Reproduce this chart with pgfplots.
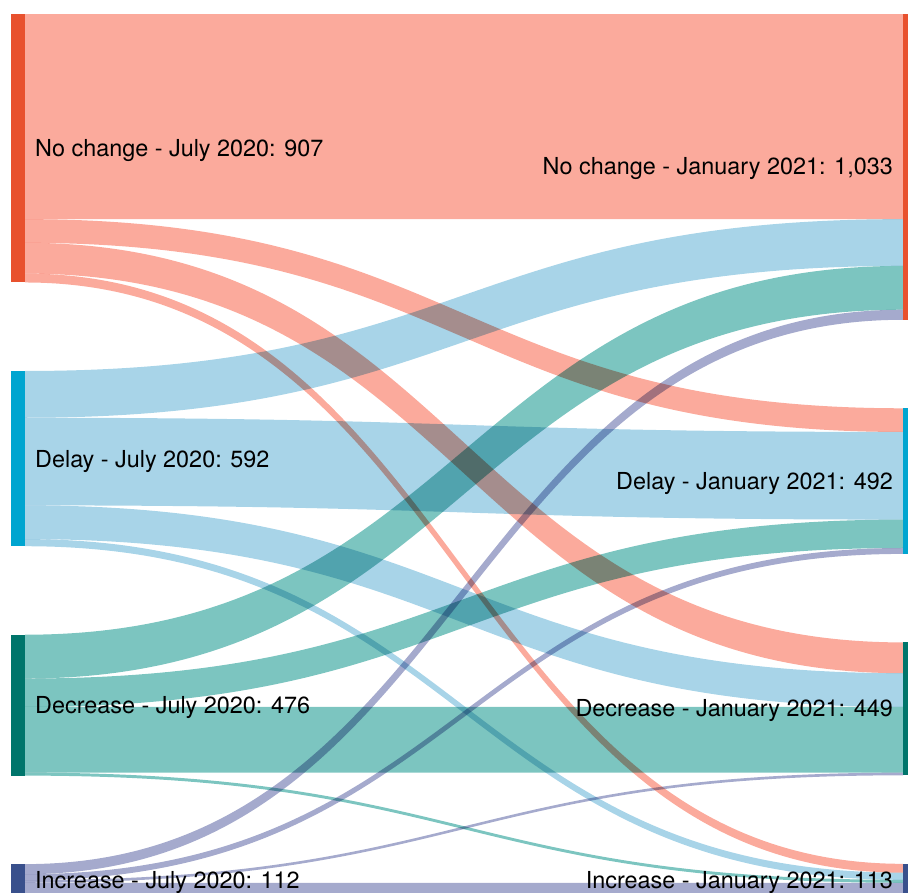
\documentclass[border=0pt]{standalone}
\usepackage{pgfplots}
\pgfplotsset{compat=1.18}
\usepackage{pgfplotstable}
\usepackage{fontspec}
\setmainfont{TeX Gyre Heros}

\definecolor{node0}{RGB}{232,81,46}
\definecolor{node1}{RGB}{0,165,208}
\definecolor{node2}{RGB}{0,117,107}
\definecolor{node3}{RGB}{57,80,140}
\definecolor{flow0}{RGB}{251,170,156}
\definecolor{flow1}{RGB}{168,212,232}
\definecolor{flow2}{RGB}{124,197,192}
\definecolor{flow3}{RGB}{165,170,205}

% flows: source (July 2020) -> target (January 2021)
% 0 = No change, 1 = Delay, 2 = Decrease, 3 = Increase
\pgfplotstableread{
src tgt val
0 0 693
0 1 80
0 2 104
0 3 30
1 0 158
1 1 296
1 2 114
1 3 24
2 0 148
2 1 96
2 2 222
2 3 10
3 0 34
3 1 20
3 2 9
3 3 49
}\flows

\def\sc{0.296}
\def\topy{14}
\def\gap{88.5}
\def\xL{25}
\def\xR{903}
\def\xM{464}

\begin{document}
\begin{tikzpicture}
% node totals
\pgfplotsforeachungrouped \i in {0,1,2,3}{%
  \expandafter\def\csname Lsum\i\endcsname{0}%
  \expandafter\def\csname Rsum\i\endcsname{0}%
}
\pgfplotsforeachungrouped \r in {0,...,15}{%
  \pgfplotstablegetelem{\r}{src}\of\flows \edef\fs{\pgfplotsretval}%
  \pgfplotstablegetelem{\r}{tgt}\of\flows \edef\ft{\pgfplotsretval}%
  \pgfplotstablegetelem{\r}{val}\of\flows \edef\fv{\pgfplotsretval}%
  \pgfmathsetmacro\tmp{\csname Lsum\fs\endcsname+\fv}%
  \expandafter\let\csname Lsum\fs\endcsname\tmp
  \pgfmathsetmacro\tmp{\csname Rsum\ft\endcsname+\fv}%
  \expandafter\let\csname Rsum\ft\endcsname\tmp
}
% node positions
\pgfmathsetmacro\curL{\topy}
\pgfmathsetmacro\curR{\topy}
\pgfplotsforeachungrouped \i in {0,1,2,3}{%
  \expandafter\let\csname Ltop\i\endcsname\curL
  \expandafter\let\csname soff\i\endcsname\curL
  \expandafter\let\csname Rtop\i\endcsname\curR
  \expandafter\let\csname toff\i\endcsname\curR
  \pgfmathsetmacro\tmp{\curL+\csname Lsum\i\endcsname*\sc}%
  \expandafter\let\csname Lbot\i\endcsname\tmp
  \pgfmathsetmacro\curL{\tmp+\gap}%
  \pgfmathsetmacro\tmp{\curR+\csname Rsum\i\endcsname*\sc}%
  \expandafter\let\csname Rbot\i\endcsname\tmp
  \pgfmathsetmacro\curR{\tmp+\gap}%
}
% flow paths
\pgfplotsforeachungrouped \r in {0,...,15}{%
  \pgfplotstablegetelem{\r}{src}\of\flows \edef\fs{\pgfplotsretval}%
  \pgfplotstablegetelem{\r}{tgt}\of\flows \edef\ft{\pgfplotsretval}%
  \pgfplotstablegetelem{\r}{val}\of\flows \edef\fv{\pgfplotsretval}%
  \pgfmathsetmacro\fh{\fv*\sc}%
  \edef\ya{\csname soff\fs\endcsname}%
  \edef\yb{\csname toff\ft\endcsname}%
  \pgfmathsetmacro\yab{\ya+\fh}%
  \pgfmathsetmacro\ybb{\yb+\fh}%
  \expandafter\let\csname soff\fs\endcsname\yab
  \expandafter\let\csname toff\ft\endcsname\ybb
  \expandafter\edef\csname flowpath\r\endcsname{\noexpand\fill[flow\fs, blend mode=multiply] (axis cs:\xL,\ya) .. controls (axis cs:\xM,\ya) and (axis cs:\xM,\yb) .. (axis cs:\xR,\yb) -- (axis cs:\xR,\ybb) .. controls (axis cs:\xM,\ybb) and (axis cs:\xM,\yab) .. (axis cs:\xL,\yab) -- cycle;}%
}
\begin{axis}[
  name=ax,
  width=908pt, height=892pt, scale only axis,
  xmin=0, xmax=908, ymin=0, ymax=892, y dir=reverse,
  hide axis, clip=true,
]
\pgfplotsforeachungrouped \r in {0,...,15}{\csname flowpath\r\endcsname}
\pgfplotsforeachungrouped \i in {0,1,2,3}{%
  \edef\temp{\noexpand\fill[node\i] (axis cs:11,\csname Ltop\i\endcsname) rectangle (axis cs:25,\csname Lbot\i\endcsname);
    \noexpand\fill[node\i] (axis cs:903,\csname Rtop\i\endcsname) rectangle (axis cs:917,\csname Rbot\i\endcsname);}%
  \temp
}
\tikzset{lab/.style={font=\fontsize{23.4}{28}\selectfont, text=black, inner sep=0pt}}
\node[lab, anchor=west] at (axis cs:35,151) {No change - July 2020: 907};
\node[lab, anchor=west] at (axis cs:35,462) {Delay - July 2020: 592};
\node[lab, anchor=west] at (axis cs:35,708) {Decrease - July 2020: 476};
\node[lab, anchor=west] at (axis cs:35,883) {Increase - July 2020: 112};
\node[lab, anchor=east] at (axis cs:893,169) {No change - January 2021: 1,033};
\node[lab, anchor=east] at (axis cs:893,484) {Delay - January 2021: 492};
\node[lab, anchor=east] at (axis cs:893,711) {Decrease - January 2021: 449};
\node[lab, anchor=east] at (axis cs:893,883) {Increase - January 2021: 113};
\end{axis}
\pgfresetboundingbox
\path (ax.south west) rectangle (ax.north east);
\end{tikzpicture}
\end{document}
